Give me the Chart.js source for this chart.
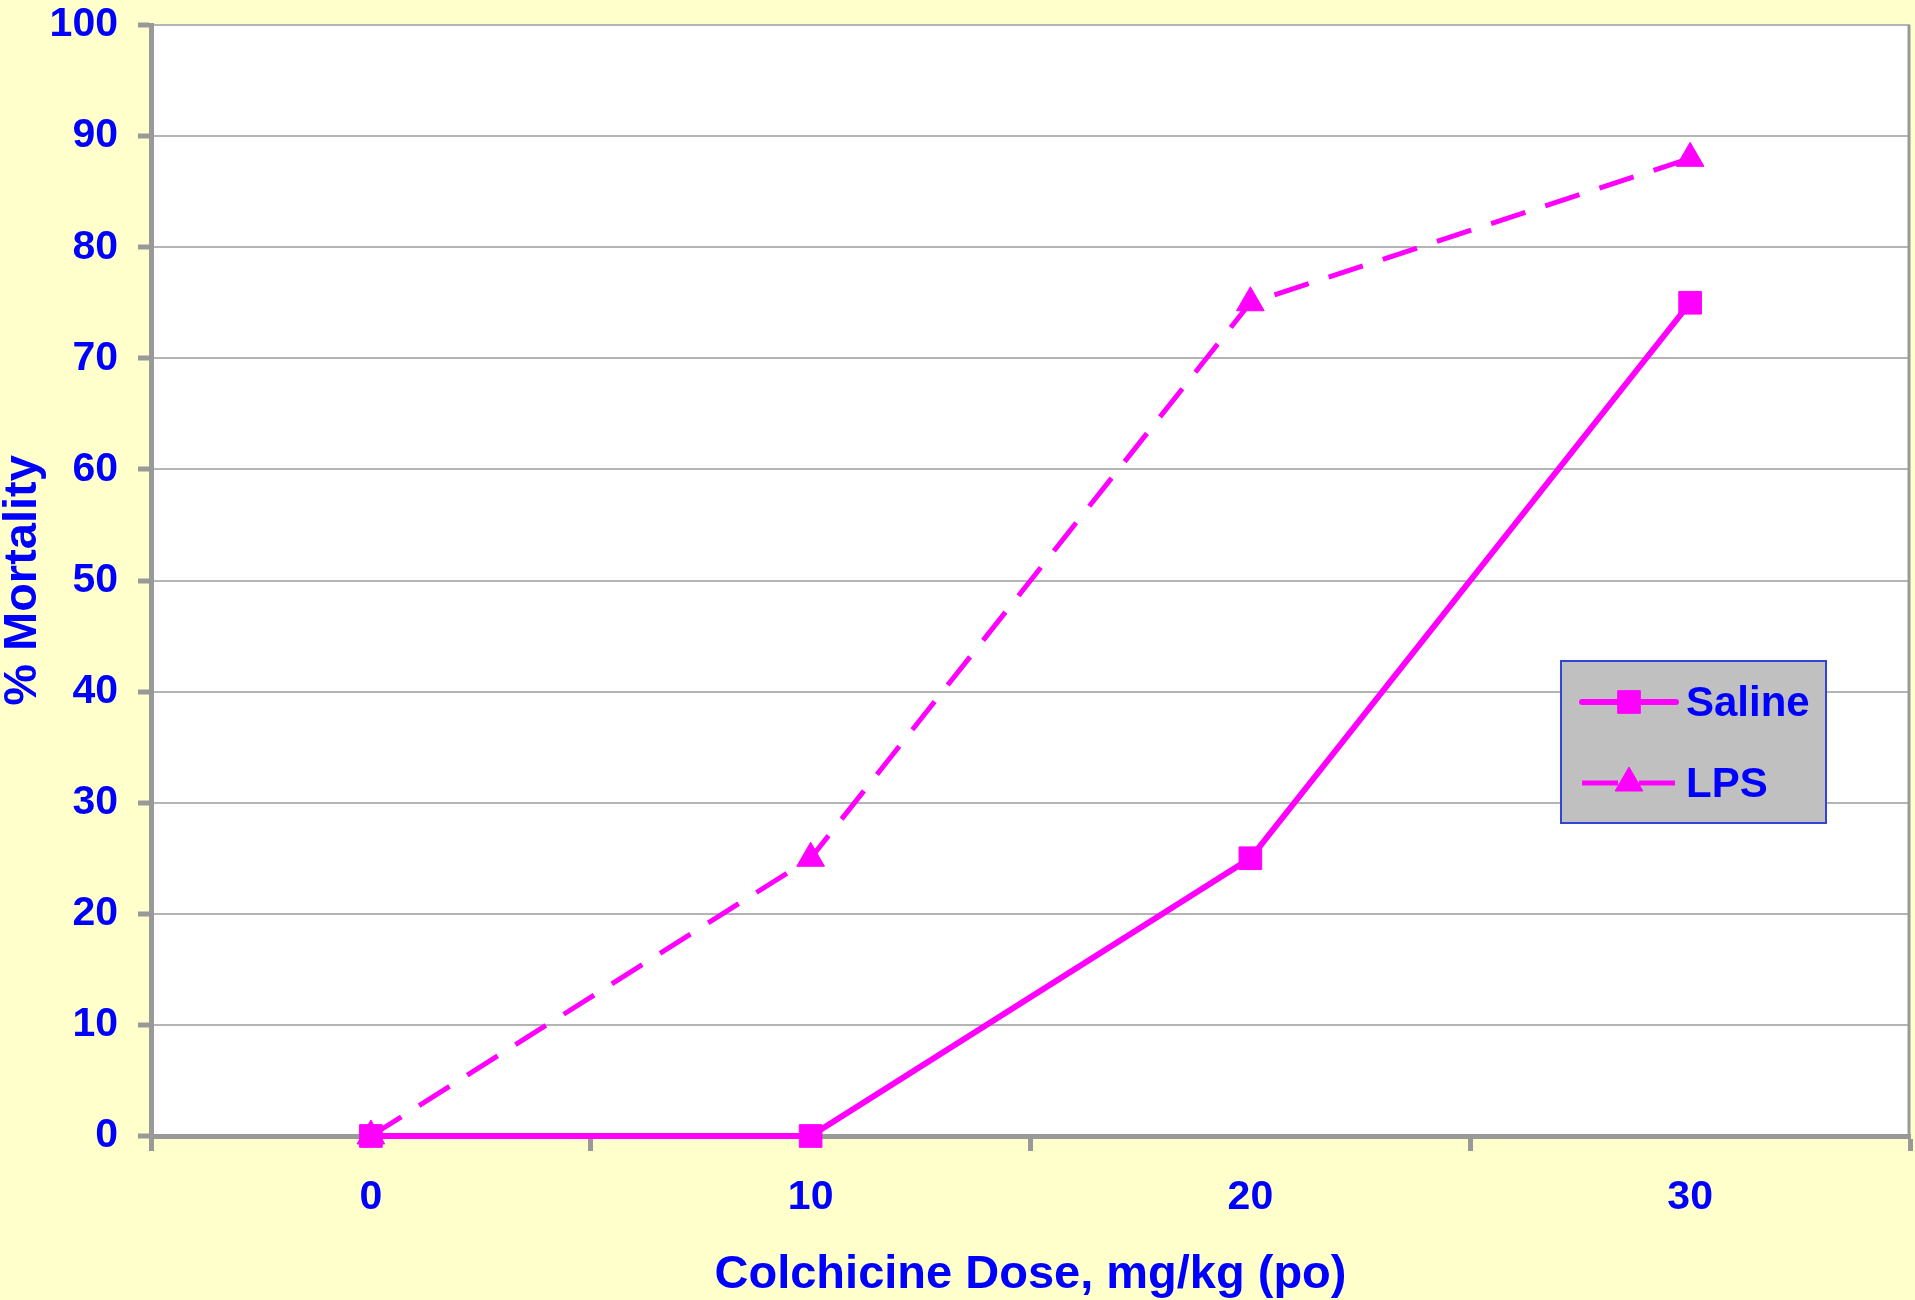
<!DOCTYPE html>
<html>
<head>
<meta charset="utf-8">
<script src="https://cdn.jsdelivr.net/npm/chart.js@4"></script>
<style>
  html, body { margin: 0; padding: 0; background: #FFFFCC; }
  #wrap { width: 1915px; height: 1300px; }
</style>
</head>
<body>
<div id="wrap"><canvas id="chart" width="1915" height="1300"></canvas></div>
<script>
const doses = ['0', '10', '20', '30'];
const saline = [0, 0, 25, 75];
const lps = [0, 25, 75, 88];
const yTicks = [0, 10, 20, 30, 40, 50, 60, 70, 80, 90, 100];

const BLUE = '#0000FF';
const MAGENTA = '#FF00FF';
const AXIS = '#999999';
const FONT = '"Liberation Sans", Arial, sans-serif';

// yellow page, white plot area, right frame line
const background = {
    id: 'background',
    beforeDraw(chart) {
        const c = chart.ctx, a = chart.chartArea;
        c.save();
        c.fillStyle = '#FFFFCC';
        c.fillRect(0, 0, chart.width, chart.height);
        c.fillStyle = '#FFFFFF';
        c.fillRect(a.left, a.top, a.right - a.left, a.bottom - a.top);
        c.restore();
    },
    beforeDatasetsDraw(chart) {
        const c = chart.ctx, a = chart.chartArea;
        c.save();
        c.strokeStyle = AXIS;
        c.lineWidth = 3;
        c.beginPath();
        c.moveTo(a.right - 1, a.top);
        c.lineTo(a.right - 1, a.bottom);
        c.stroke();
        c.restore();
    }
};

// legend box drawn inside the plot, like the original
const boxLegend = {
    id: 'boxLegend',
    afterDraw(chart) {
        const c = chart.ctx;
        const x = 1561, y = 661, w = 265, h = 162;
        c.save();
        c.fillStyle = '#C0C0C0';
        c.fillRect(x, y, w, h);
        c.strokeStyle = '#3344DD';
        c.lineWidth = 2;
        c.strokeRect(x, y, w, h);
        const rows = [702, 783];
        chart.data.datasets.forEach((ds, i) => {
            const ly = rows[i];
            c.strokeStyle = ds.borderColor;
            c.lineWidth = ds.borderWidth;
            c.lineCap = ds.borderDash ? 'butt' : 'round';
            c.setLineDash(ds.borderDash || []);
            c.beginPath();
            c.moveTo(1582, ly);
            c.lineTo(1676, ly);
            c.stroke();
            c.setLineDash([]);
            c.lineCap = 'butt';
            c.fillStyle = ds.backgroundColor;
            c.strokeStyle = ds.borderColor;
            c.lineWidth = 1;
            Chart.helpers.drawPoint(c, {
                pointStyle: ds.pointStyle,
                radius: ds.pointRadius,
                borderWidth: 1,
                rotation: 0
            }, 1629, ly);
            c.fillStyle = BLUE;
            c.font = 'bold 42px ' + FONT;
            c.textBaseline = 'middle';
            c.textAlign = 'left';
            c.fillText(ds.label, 1686, ly + 2);
        });
        c.restore();
    }
};

new Chart(document.getElementById('chart'), {
    type: 'line',
    data: {
        labels: doses,
        datasets: [
            {
                label: 'Saline',
                data: saline,
                borderColor: MAGENTA,
                backgroundColor: MAGENTA,
                borderWidth: 6,
                pointStyle: 'rect',
                pointRadius: 16,
                pointBorderWidth: 1,
                tension: 0,
                clip: false
            },
            {
                label: 'LPS',
                data: lps,
                borderColor: MAGENTA,
                backgroundColor: MAGENTA,
                borderWidth: 5,
                borderDash: [36, 21],
                pointStyle: 'triangle',
                pointRadius: 16,
                pointBorderWidth: 1,
                tension: 0,
                clip: false
            }
        ]
    },
    options: {
        responsive: false,
        animation: false,
        layout: { autoPadding: false, padding: { top: 25, right: 5, left: 0, bottom: 0 } },
        plugins: {
            legend: { display: false },
            tooltip: { enabled: false }
        },
        scales: {
            x: {
                type: 'category',
                offset: true,
                afterFit(scale) {
                    scale.height = 164;
                    scale.paddingLeft = 0;
                    scale.paddingRight = 0;
                },
                grid: {
                    offset: true,
                    drawOnChartArea: false,
                    tickLength: 15,
                    tickColor: AXIS,
                    tickWidth: 5
                },
                border: { color: AXIS, width: 5 },
                ticks: {
                    color: BLUE,
                    font: { family: FONT, size: 41, weight: 'bold' },
                    padding: 22,
                    maxRotation: 0
                },
                title: {
                    display: true,
                    text: 'Colchicine Dose, mg/kg (po)',
                    color: BLUE,
                    font: { family: FONT, size: 47, weight: 'bold', lineHeight: 1 },
                    padding: { top: 0, bottom: 1 }
                }
            },
            y: {
                min: 0,
                max: 100,
                afterFit(scale) {
                    scale.width = 151;
                    scale.paddingTop = 0;
                    scale.paddingBottom = 0;
                },
                afterBuildTicks(scale) { scale.ticks = yTicks.map(v => ({ value: v })); },
                grid: {
                    color: '#B4B4B4',
                    lineWidth: 2,
                    tickLength: 13,
                    tickColor: AXIS,
                    tickWidth: 5
                },
                border: { color: AXIS, width: 5 },
                ticks: {
                    color: BLUE,
                    font: { family: FONT, size: 41, weight: 'bold' },
                    padding: 20
                },
                title: {
                    display: true,
                    text: '% Mortality',
                    color: BLUE,
                    font: { family: FONT, size: 47, weight: 'bold', lineHeight: 1 },
                    padding: { top: 0, bottom: 0 }
                }
            }
        }
    },
    plugins: [background, boxLegend]
});
</script>
</body>
</html>
